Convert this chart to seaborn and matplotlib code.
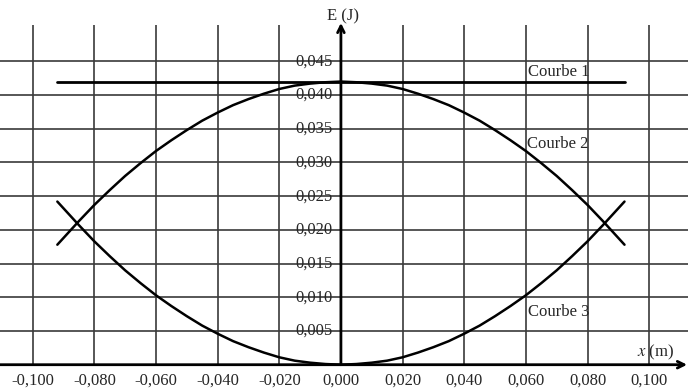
import matplotlib
matplotlib.use("Agg")
import matplotlib.pyplot as plt
import seaborn as sns
import pandas as pd

# Readings from the chart
x_pos = [0.0, 0.005, 0.010, 0.015, 0.020, 0.025, 0.030, 0.035, 0.040, 0.045,
         0.050, 0.055, 0.060, 0.065, 0.070, 0.075, 0.080, 0.085, 0.090, 0.092]
e3_pos = [0.0, 0.0001, 0.0003, 0.0006, 0.0011, 0.0018, 0.0026, 0.0035, 0.0046, 0.0058,
          0.0072, 0.0087, 0.0103, 0.0121, 0.0140, 0.0161, 0.0183, 0.0207, 0.0232, 0.0242]
e2_pos = [0.0420, 0.0419, 0.0417, 0.0414, 0.0409, 0.0402, 0.0394, 0.0385, 0.0374, 0.0362,
          0.0348, 0.0333, 0.0317, 0.0299, 0.0280, 0.0259, 0.0237, 0.0213, 0.0188, 0.0178]
e1_x = [-0.092, 0.092]
e1_y = [0.042, 0.042]

x_ticks = [-0.100, -0.080, -0.060, -0.040, -0.020, 0.000, 0.020, 0.040, 0.060, 0.080, 0.100]
y_ticks = [0.005, 0.010, 0.015, 0.020, 0.025, 0.030, 0.035, 0.040, 0.045]
curve_labels = ["Courbe 1", "Courbe 2", "Courbe 3"]

xs = [-v for v in x_pos[::-1]] + x_pos[1:]
e3 = e3_pos[::-1] + e3_pos[1:]
e2 = e2_pos[::-1] + e2_pos[1:]
df = pd.DataFrame({"x": xs, "E2": e2, "E3": e3})
df1 = pd.DataFrame({"x": e1_x, "E1": e1_y})

sns.set_style("white")
plt.rcParams["font.family"] = ["Liberation Serif", "DejaVu Serif"]
plt.rcParams["mathtext.fontset"] = "stix"

XL, XR = -0.1106, 0.1126
fig = plt.figure(figsize=(6.88, 3.91), dpi=100)
ax = fig.add_axes([0, 0, 1, 1])
ax.set_xlim(XL, XR)
ax.set_ylim(-0.0039, 0.0541)

gc = "#3a3a3a"
ax.vlines(x_ticks, 0, 0.0504, color=gc, lw=1.2, zorder=1)
ax.hlines(y_ticks, XL, XR, color=gc, lw=1.2, zorder=1)

sns.lineplot(data=df1, x="x", y="E1", ax=ax, color="black", lw=2, zorder=3)
sns.lineplot(data=df, x="x", y="E2", ax=ax, color="black", lw=1.8, zorder=3, sort=False)
sns.lineplot(data=df, x="x", y="E3", ax=ax, color="black", lw=1.8, zorder=3, sort=False)
ax.set_xlim(XL, XR)
ax.set_ylim(-0.0039, 0.0541)
ax.axis("off")

# axes with arrows
ax.annotate("", xy=(0, 0.0507), xytext=(0, 0), xycoords="data",
            arrowprops=dict(arrowstyle="->", lw=2, color="black", mutation_scale=12,
                            shrinkA=0, shrinkB=0), zorder=4)
ax.annotate("", xy=(XR - 0.0003, 0), xytext=(XL, 0), xycoords="data",
            arrowprops=dict(arrowstyle="->", lw=2, color="black", mutation_scale=12,
                            shrinkA=0, shrinkB=0), zorder=4)

fs = 12
for v in y_ticks:
    ax.text(-0.0028, v, f"{v:.3f}".replace(".", ","), ha="right", va="center",
            fontsize=fs, zorder=5)
for v in x_ticks:
    ax.text(v, -0.0024, f"{v:.3f}".replace(".", ","), ha="center", va="center",
            fontsize=fs, zorder=5)

ax.text(0.0007, 0.0516, "E (J)", ha="center", va="center", fontsize=fs)
ax.text(0.1020, 0.0019, "$\\mathit{x}$ (m)", ha="center", va="center", fontsize=fs)

ax.text(0.0608, 0.0434, curve_labels[0], ha="left", va="center", fontsize=fs)
ax.text(0.0603, 0.0327, curve_labels[1], ha="left", va="center", fontsize=fs)
ax.text(0.0606, 0.0078, curve_labels[2], ha="left", va="center", fontsize=fs)

fig.savefig("out.png", dpi=100)
